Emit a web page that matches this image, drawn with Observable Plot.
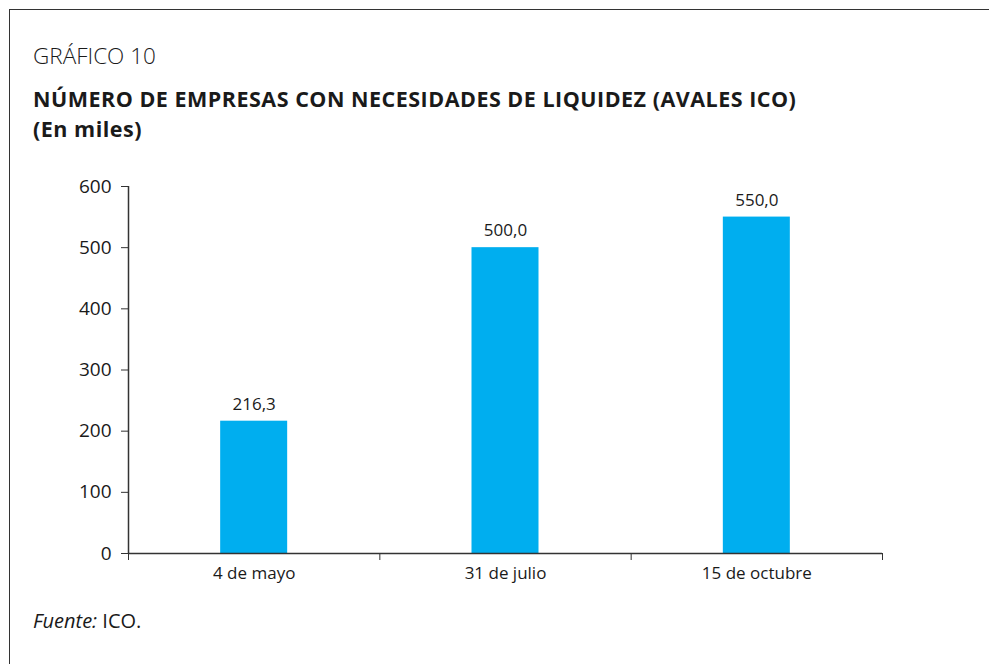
<!DOCTYPE html>
<html>
<head>
<meta charset="utf-8">
<script src="https://cdn.jsdelivr.net/npm/d3@7"></script>
<script src="https://cdn.jsdelivr.net/npm/@observablehq/plot@0.6"></script>
<style>
  html, body { margin: 0; padding: 0; background: #fff; }
  body { width: 989px; height: 664px; position: relative; overflow: hidden; font-family: "Open Sans", sans-serif; color: #1a1a1a; }
  .frame { position: absolute; left: 9px; top: 9px; width: 1200px; height: 900px; border-left: 1.5px solid #333; border-top: 1.5px solid #333; }
  .t { position: absolute; left: 33px; line-height: 1; white-space: nowrap; }
  #kicker { top: 45px; font-size: 22.5px; font-weight: 300; }
  .title { font-size: 21.5px; font-weight: 700; letter-spacing: 0.5px; }
  #title1 { top: 88px; }
  #title2 { top: 117.5px; }
  #caption { top: 611px; font-size: 20px; }
  #chart { position: absolute; left: 0; top: 165px; }
</style>
</head>
<body>
<div class="frame"></div>
<div class="t" id="kicker">GRÁFICO 10</div>
<div class="t title" id="title1">NÚMERO DE EMPRESAS CON NECESIDADES DE LIQUIDEZ (AVALES ICO)</div>
<div class="t title" id="title2">(En miles)</div>
<div class="t" id="caption"><i>Fuente:</i> ICO.</div>
<div id="chart"></div>
<script>
const categories = ["4 de mayo", "31 de julio", "15 de octubre"];
const values = [216.3, 500.0, 550.0];
const yTicks = [0, 100, 200, 300, 400, 500, 600];

const data = categories.map((c, i) => ({cat: c, i, value: values[i]}));
const fmt = v => v.toFixed(1).replace(".", ",");
const W = 989, ML = 128, MR = 107;
const band = (W - ML - MR) / categories.length;
const barW = 67;
const inset = (band - barW) / 2;

const chart = Plot.plot({
  width: W,
  height: 430,
  marginLeft: ML,
  marginRight: MR,
  marginTop: 21,
  marginBottom: 42,
  style: {fontFamily: "'Open Sans', sans-serif", fontSize: "17px", color: "#1a1a1a", overflow: "visible"},
  x: {type: "linear", domain: [0, categories.length], axis: null},
  y: {domain: [0, 600], axis: null},
  marks: [
    Plot.rectY(data, {x1: d => d.i, x2: d => d.i + 1, y: "value", fill: "#00AEEF", insetLeft: inset, insetRight: inset}),
    Plot.axisY({ticks: yTicks, tickSize: 7, tickPadding: 10, tickFormat: d => d, stroke: "#333", fontSize: 19, label: null}),
    Plot.ruleX([0], {stroke: "#333", strokeWidth: 1.5}),
    Plot.axisX({ticks: d3.range(categories.length + 1), tickSize: 7, tickFormat: () => "", stroke: "#333", label: null}),
    Plot.ruleY([0], {stroke: "#333", strokeWidth: 1.5}),
    Plot.text(data, {x: d => d.i + 0.5, y: 0, text: "cat", dy: 20, fontSize: 17, fill: "#1a1a1a"}),
    Plot.text(data, {x: d => d.i + 0.5, y: "value", text: d => fmt(d.value), dy: -17, fontSize: 17, fill: "#1a1a1a"})
  ]
});
document.getElementById("chart").appendChild(chart);
</script>
</body>
</html>
